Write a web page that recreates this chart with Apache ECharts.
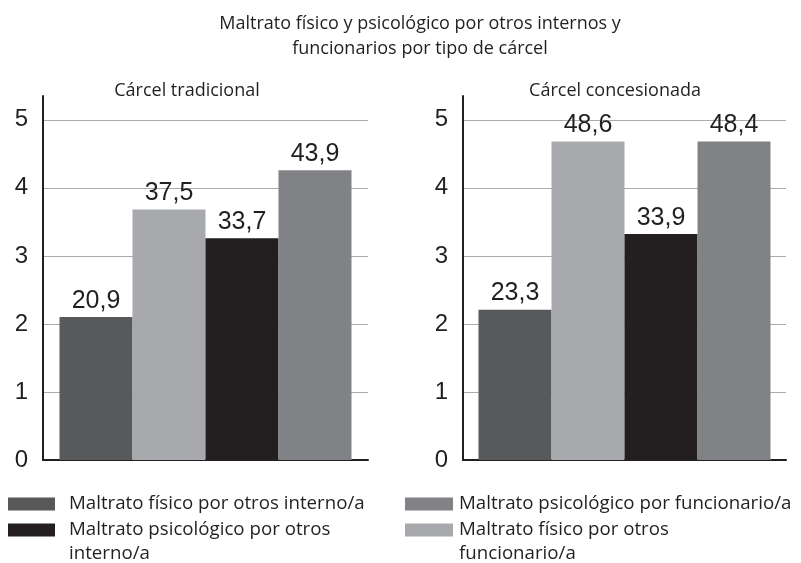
<!DOCTYPE html>
<html>
<head>
<meta charset="utf-8">
<script src="https://cdn.jsdelivr.net/npm/echarts@6/dist/echarts.min.js"></script>
<style>
  html, body { margin: 0; padding: 0; background: #fff; }
  #chart { width: 801px; height: 563px; }
</style>
</head>
<body>
<div id="chart"></div>
<script>
// datos
const titulo = "Maltrato físico y psicológico por otros internos y\nfuncionarios por tipo de cárcel";
const carceles = ["Cárcel tradicional", "Cárcel concesionada"];
const tipos = [
  "Maltrato físico por otros interno/a",
  "Maltrato físico por otros funcionario/a",
  "Maltrato psicológico por otros interno/a",
  "Maltrato psicológico por funcionario/a",
];
const colores = ["#58595b", "#a7a9ac", "#231f20", "#818285"];
// altura de las barras en la escala 0-5 del eje
const alturaTradicional = [2.1, 3.68, 3.26, 4.26];
const alturaConcesionada = [2.21, 4.68, 3.32, 4.68];
// porcentajes escritos sobre las barras
const etiquetaTradicional = [20.9, 37.5, 33.7, 43.9];
const etiquetaConcesionada = [23.3, 48.6, 33.9, 48.4];
const ticksY = [0, 1, 2, 3, 4, 5];

const fuenteTexto = "'Open Sans', sans-serif";
const fuenteNumeros = "'Liberation Sans', Arial, sans-serif";
const negro = "#231f20";

const chart = echarts.init(document.getElementById("chart"));

function ejeY(grid) {
  return {
    type: "value",
    gridIndex: grid,
    min: 0,
    max: 5.35,
    interval: 1,
    axisLine: { show: true, lineStyle: { color: negro, width: 2 } },
    axisTick: { show: false },
    axisLabel: {
      color: negro,
      fontFamily: fuenteNumeros,
      fontSize: 24,
      margin: 15,
      showMaxLabel: false,
      formatter: (v) => (ticksY.indexOf(v) >= 0 ? String(v) : ""),
    },
    splitLine: { show: true, showMaxLine: false, lineStyle: { color: "#ababab", width: 1 } },
  };
}

function ejeX(grid) {
  return {
    type: "category",
    gridIndex: grid,
    data: [carceles[grid]],
    axisLine: { show: true, lineStyle: { color: negro, width: 2 } },
    axisTick: { show: false },
    axisLabel: { show: false },
  };
}

function barras(grid, alturas, etiquetas) {
  return tipos.map((nombre, i) => ({
    name: nombre,
    type: "bar",
    xAxisIndex: grid,
    yAxisIndex: grid,
    barWidth: 73,
    barGap: "0%",
    data: [alturas[i]],
    itemStyle: { color: colores[i] },
    label: {
      show: true,
      position: "top",
      distance: 4,
      color: negro,
      fontFamily: fuenteNumeros,
      fontSize: 25,
      formatter: () => etiquetas[i].toFixed(1).replace(".", ","),
    },
  }));
}

// una leyenda por elemento; en las de dos líneas una línea vacía arriba
// deja la primera línea a la altura del cuadro de color
function leyenda(nombre, left, top, ancho, dosLineas, sep) {
  return {
    data: [nombre],
    left: left,
    top: top,
    padding: 0,
    orient: "vertical",
    icon: "rect",
    itemWidth: ancho,
    itemHeight: 13,
    selectedMode: false,
    formatter: (n) => (dosLineas ? "\n" + n.replace(/ (\S+)$/, "\n$1") : n),
    textStyle: {
      color: negro,
      fontFamily: fuenteTexto,
      fontSize: 18.7,
      lineHeight: 24,
      padding: [2, 0, 0, sep],
    },
  };
}

const estiloTitulo = { color: negro, fontFamily: fuenteTexto, fontSize: 18, fontWeight: "normal" };

chart.setOption({
  animation: false,
  title: [
    {
      text: titulo,
      left: 420,
      top: 11,
      padding: 0,
      textAlign: "center",
      textStyle: Object.assign({ lineHeight: 25 }, estiloTitulo),
    },
    { text: carceles[0], left: 187, top: 82, padding: 0, textAlign: "center", textStyle: estiloTitulo },
    { text: carceles[1], left: 615, top: 82, padding: 0, textAlign: "center", textStyle: estiloTitulo },
  ],
  legend: [
    leyenda(tipos[0], 8, 491, 47, false, 9),
    leyenda(tipos[2], 8, 493, 47, true, 9),
    leyenda(tipos[3], 405, 491, 48, false, 1),
    leyenda(tipos[1], 405, 493, 48, true, 1),
  ],
  grid: [
    { left: 43, right: 801 - 368, top: 96, bottom: 563 - 460 },
    { left: 463, right: 801 - 786, top: 96, bottom: 563 - 460 },
  ],
  xAxis: [ejeX(0), ejeX(1)],
  yAxis: [ejeY(0), ejeY(1)],
  series: [
    ...barras(0, alturaTradicional, etiquetaTradicional),
    ...barras(1, alturaConcesionada, etiquetaConcesionada),
  ],
});
</script>
</body>
</html>
